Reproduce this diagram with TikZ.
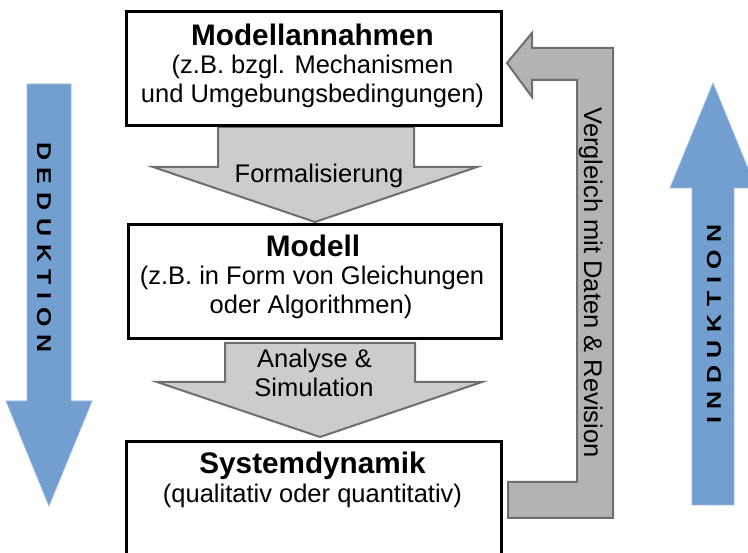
\documentclass[tikz,border=0pt]{standalone}
\usepackage{fontspec}
\setmainfont{Liberation Sans}
\usepackage{graphicx}
\definecolor{blueA}{HTML}{729FCF}
\definecolor{blueE}{HTML}{9DBCE0}
\definecolor{greyA}{HTML}{CCCCCC}
\definecolor{greyB}{HTML}{B3B3B3}
\definecolor{greyE}{HTML}{6E6E6E}
\begin{document}
\begin{tikzpicture}[x=1pt,y=-1pt,
  modelbox/.style={draw=black,line width=2.6pt,fill=white,inner sep=0pt,anchor=north west},
  grayarrow/.style={draw=greyE,line width=2pt,fill=greyA},
  backarrow/.style={draw=greyE,line width=2pt,fill=greyB},
  bluearrow/.style={draw=blueE,line width=0.8pt,fill=blueA},
  txt/.style={font=\fontsize{25.5}{29}\selectfont,anchor=base,inner sep=0pt},
  ttl/.style={font=\fontsize{29.7}{34}\selectfont\bfseries,anchor=base,inner sep=0pt},
  spaced/.style={font=\fontsize{20}{22}\selectfont\bfseries,inner sep=0pt}
]
\useasboundingbox (0,0) rectangle (748,553);
\clip (0,0) rectangle (748,553);

% blue side arrows
\draw[bluearrow] (27,84) -- (71,84) -- (71,401) -- (92,401) -- (49,506) -- (6,401) -- (27,401) -- cycle;
\draw[bluearrow] (713,83) -- (756,188) -- (734,188) -- (734,505) -- (692,505) -- (692,188) -- (670,188) -- cycle;
\node[spaced,rotate=-90] (ded) at (44,247.5)
  {\scalebox{1.25}[1]{D\kern6.2pt E\kern6.2pt D\kern6.2pt U\kern6.2pt K\kern6.2pt T\kern6.2pt I\kern6.2pt O\kern6.2pt N}};
\node[spaced,rotate=90] (ind) at (714,324)
  {\scalebox{1.25}[1]{I\kern6.1pt N\kern6.1pt D\kern6.1pt U\kern6.1pt K\kern6.1pt T\kern6.1pt I\kern6.1pt O\kern6.1pt N}};

% feedback arrow
\draw[backarrow] (507,63) -- (532,33) -- (532,48) -- (613,48) -- (613,518) -- (508,518)
  -- (508,482) -- (577,482) -- (577,80) -- (532,80) -- (532,97) -- cycle;
\node[txt,rotate=-90] (vgl) at (584,282.5) {Vergleich mit Daten \& Revision};

% down arrows
\draw[grayarrow] (218,127) -- (414,127) -- (414,167) -- (477,167) -- (315,222) -- (153,167) -- (218,167) -- cycle;
\node[txt] (form) at (319,183) {Formalisierung};
\draw[grayarrow] (225,343) -- (415,343) -- (415,382) -- (482,382) -- (320,437) -- (157,382) -- (225,382) -- cycle;
\node[txt] (ana) at (314.5,368) {Analyse \&};
\node[txt] (sim) at (314,397) {Simulation};

% boxes
\node[modelbox,minimum width=375pt,minimum height=114pt] (box1) at (125,10) {};
\node[modelbox,minimum width=373pt,minimum height=114pt] (box2) at (127,223) {};
\node[modelbox,minimum width=375pt,minimum height=130pt] (box3) at (125,440) {};

\node[ttl] (t1a) at (312.5,46) {Modellannahmen};
\node[txt] (t1b) at (312.5,74) {(z.B. bzgl. Mechanismen};
\node[txt] (t1c) at (312.5,103) {und Umgebungsbedingungen)};

\node[ttl] (t2a) at (313,256.5) {Modell};
\node[txt] (t2b) at (312,285) {(z.B. in Form von Gleichungen};
\node[txt] (t2c) at (311,314) {oder Algorithmen)};

\node[ttl] (t3a) at (312.5,474) {Systemdynamik};
\node[txt] (t3b) at (312.5,503) {(qualitativ oder quantitativ)};
\end{tikzpicture}
\end{document}
